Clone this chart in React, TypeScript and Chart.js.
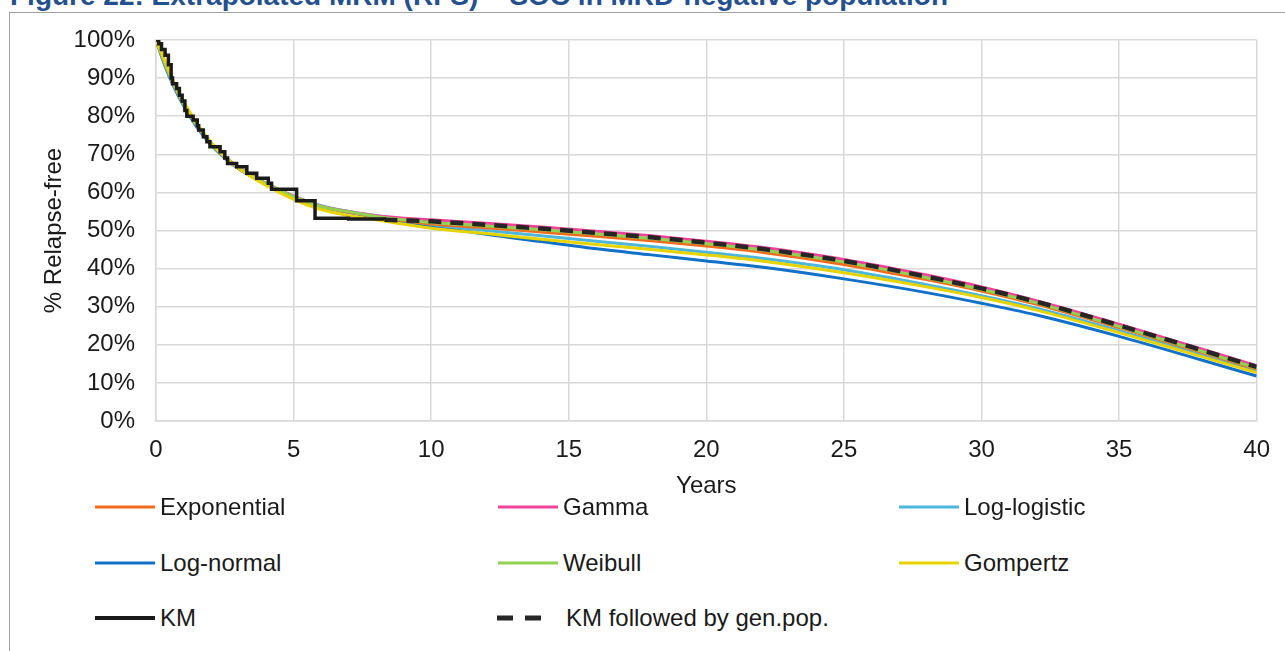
import { useEffect, useRef } from "react";
import { Chart, registerables } from "chart.js";

Chart.register(...registerables);

// Time grid (years) shared by all parametric model curves
const years = [0, 0.25, 0.5, 0.75, 1, 1.5, 2, 2.5, 3, 4, 5, 6, 7, 8, 10, 12, 14, 16, 18, 20, 22, 25, 28, 30, 32, 35, 38, 40];

// Relapse-free (%) per model
const exponential = [100, 95.3, 90.8, 86.8, 83.4, 77.5, 72.9, 69.3, 66.5, 62.3, 58.9, 56.2, 54.8, 53.6, 51.7, 50.7, 49.6, 48.5, 47.3, 45.9, 44.3, 41.1, 37.1, 34.1, 30.6, 24.5, 18.0, 13.6];
const gamma = [100, 95.4, 90.9, 86.9, 83.5, 77.6, 73.0, 69.4, 66.6, 62.4, 59.0, 56.4, 55.0, 53.9, 52.8, 51.9, 50.9, 49.8, 48.6, 47.2, 45.6, 42.4, 38.3, 35.2, 31.6, 25.4, 18.9, 14.5];
const logLogistic = [100, 95.0, 90.4, 86.5, 83.1, 77.3, 72.8, 69.2, 66.4, 62.3, 59.0, 56.5, 55.0, 53.9, 51.6, 50.0, 48.6, 47.2, 45.8, 44.3, 42.7, 39.7, 35.8, 32.9, 29.6, 23.7, 17.3, 13.0];
const logNormal = [100, 94.7, 90.1, 86.2, 82.8, 77.0, 72.5, 69.0, 66.2, 62.1, 58.8, 56.3, 54.8, 53.4, 51.2, 49.0, 47.1, 45.2, 43.6, 42.0, 40.4, 37.3, 33.7, 30.9, 27.8, 22.2, 16.0, 11.8];
const weibull = [100, 95.3, 90.8, 86.8, 83.4, 77.5, 72.9, 69.3, 66.5, 62.3, 58.9, 56.3, 54.9, 53.7, 52.1, 51.2, 50.2, 49.1, 47.9, 46.5, 44.9, 41.7, 37.6, 34.5, 31.0, 24.8, 18.3, 13.9];
const gompertz = [100, 95.8, 91.4, 87.4, 83.9, 77.9, 73.1, 69.3, 66.3, 61.8, 58.2, 55.5, 53.9, 52.8, 50.6, 49.2, 47.7, 46.3, 45.0, 43.6, 42.0, 38.9, 35.2, 32.4, 29.1, 23.2, 16.9, 12.7];

// Kaplan-Meier estimate (step function)
const kmYears = [0, 0.1, 0.2, 0.33, 0.45, 0.55, 0.6, 0.75, 0.85, 0.95, 1.05, 1.12, 1.35, 1.5, 1.55, 1.72, 1.85, 1.96, 2.33, 2.5, 2.6, 2.93, 3.3, 3.66, 4.08, 4.2, 5.11, 5.78, 7.0, 8.3];
const kmValues = [100, 99, 97.5, 96, 93.5, 90, 88.5, 87.3, 85.5, 84, 81.5, 80, 79, 77.5, 76.4, 74.6, 73.3, 72.0, 70.7, 69, 67.6, 66.7, 65.0, 63.7, 62.4, 60.8, 57.8, 53.2, 53.0, 52.8];

// KM followed by general-population mortality
const genPopYears = [8.3, 10, 12, 14, 16, 18, 20, 22, 25, 28, 30, 32, 35, 38, 40];
const genPopValues = [52.8, 52.4, 51.5, 50.5, 49.4, 48.2, 46.8, 45.2, 42.0, 37.9, 34.8, 31.3, 25.1, 18.6, 14.2];

const yTicks = [0, 10, 20, 30, 40, 50, 60, 70, 80, 90, 100];

const FONT = '"Liberation Sans", Arial, sans-serif';
const TEXT = "#1a1a1a";
const GRID = "#d9d9d9";
const DASH = [13, 9];
const LEGEND_DASH = [16, 12];

type Series = { label: string; color: string; width: number; dash?: number[] };

const legendRows: Series[] = [
  { label: "Exponential", color: "#f26b1d", width: 3 },
  { label: "Gamma", color: "#f0449a", width: 3 },
  { label: "Log-logistic", color: "#4cb6dc", width: 3 },
  { label: "Log-normal", color: "#1170c8", width: 3 },
  { label: "Weibull", color: "#92d050", width: 3 },
  { label: "Gompertz", color: "#e6d300", width: 3 },
  { label: "KM", color: "#1a1a1a", width: 4 },
  { label: "KM followed by gen.pop.", color: "#262626", width: 5, dash: LEGEND_DASH },
];

const pts = (xs: number[], ys: number[]) => xs.map((x, i) => ({ x, y: ys[i] }));

export default function App() {
  const ref = useRef<HTMLCanvasElement | null>(null);

  useEffect(() => {
    if (!ref.current) return;
    const model = (idx: number, values: number[], order: number) => ({
      label: legendRows[idx].label,
      data: pts(years, values),
      borderColor: legendRows[idx].color,
      borderWidth: 3,
      pointRadius: 0,
      cubicInterpolationMode: "monotone" as const,
      fill: false,
      order,
    });
    const chart = new Chart(ref.current, {
      type: "line",
      data: {
        datasets: [
          {
            label: legendRows[6].label,
            data: pts(kmYears, kmValues),
            borderColor: legendRows[6].color,
            borderWidth: 3.5,
            pointRadius: 0,
            stepped: true,
            fill: false,
            order: 0,
          },
          {
            label: legendRows[7].label,
            data: pts(genPopYears, genPopValues),
            borderColor: legendRows[7].color,
            borderWidth: 4.5,
            borderDash: DASH,
            pointRadius: 0,
            cubicInterpolationMode: "monotone",
            fill: false,
            order: 1,
          },
          model(5, gompertz, 2),
          model(4, weibull, 3),
          model(1, gamma, 4),
          model(0, exponential, 5),
          model(2, logLogistic, 6),
          model(3, logNormal, 7),
        ],
      },
      options: {
        animation: false,
        responsive: false,
        layout: { padding: { left: 0, right: 28, top: 40, bottom: 0 } },
        plugins: { legend: { display: false }, tooltip: { enabled: false } },
        scales: {
          x: {
            type: "linear",
            min: 0,
            max: 40,
            ticks: {
              stepSize: 5,
              maxRotation: 0,
              padding: 15,
              color: TEXT,
              font: { family: FONT, size: 24 },
            },
            grid: { color: GRID, lineWidth: 1.5, drawTicks: false },
            border: { color: GRID, width: 1.5 },
            title: {
              display: true,
              text: "Years",
              color: TEXT,
              font: { family: FONT, size: 24 },
              padding: { top: 0, bottom: -1 },
            },
            afterFit: (s: any) => {
              s.height = 79;
            },
          },
          y: {
            min: 0,
            max: 100,
            afterBuildTicks: (s: any) => {
              s.ticks = yTicks.map((v) => ({ value: v }));
            },
            ticks: {
              padding: 21,
              color: TEXT,
              font: { family: FONT, size: 24 },
              callback: (v: any) => `${v}%`,
            },
            grid: { color: GRID, lineWidth: 1.5, drawTicks: false },
            border: { color: GRID, width: 1.5 },
            title: {
              display: true,
              text: "% Relapse-free",
              color: TEXT,
              font: { family: FONT, size: 24 },
              padding: { top: 40, bottom: 0 },
            },
            afterFit: (s: any) => {
              s.width = 156;
            },
          },
        },
      },
    });
    return () => chart.destroy();
  }, []);

  const colLeft = [94, 497, 898];
  const rowMid = [507, 563, 618];

  return (
    <div
      style={{
        position: "absolute",
        left: 0,
        top: 0,
        width: 1285,
        height: 651,
        overflow: "hidden",
        background: "#fff",
        fontFamily: FONT,
      }}
    >
      <div
        style={{
          position: "absolute",
          left: 10,
          top: -18,
          fontSize: 28,
          lineHeight: "28px",
          fontWeight: "bold",
          color: "#25508e",
          whiteSpace: "nowrap",
        }}
      >
        Figure 22: Extrapolated MRM (RFS) – SOC in MRD-negative population
      </div>
      <div style={{ position: "absolute", left: 9, top: 12, width: 1276, height: 1, background: "#a0a0a0" }} />
      <div style={{ position: "absolute", left: 9, top: 12, width: 1, height: 639, background: "#a0a0a0" }} />
      <canvas ref={ref} width={1285} height={500} style={{ position: "absolute", left: 0, top: 0 }} />
      {legendRows.map((s, i) => {
        const left = colLeft[i % 3];
        const mid = rowMid[Math.floor(i / 3)];
        return (
          <div key={s.label} style={{ position: "absolute", left, top: mid - 15, height: 30, display: "flex", alignItems: "center" }}>
            <svg width={62} height={30} style={{ display: "block" }}>
              <line
                x1={s.dash ? 0 : 1}
                y1={15}
                x2={s.dash ? 44 : 61}
                y2={15}
                stroke={s.color}
                strokeWidth={s.width}
                strokeDasharray={s.dash ? s.dash.join(" ") : undefined}
              />
            </svg>
            <span style={{ fontSize: 24, color: TEXT, marginLeft: s.dash ? 7 : 4, whiteSpace: "nowrap" }}>{s.label}</span>
          </div>
        );
      })}
    </div>
  );
}
